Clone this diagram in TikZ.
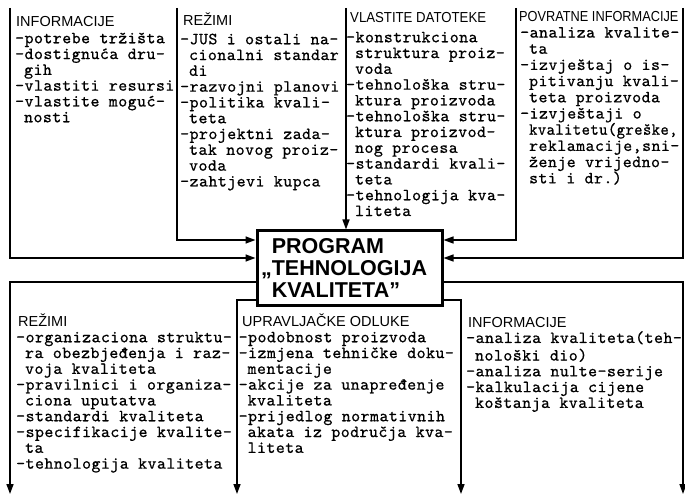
\documentclass[tikz,border=0pt]{standalone}
\usepackage{fontspec}
\usepackage{graphicx}
\newfontfamily\hdfont{Liberation Sans}
\newfontfamily\typew[LetterSpace=2.9,FakeBold=0.7]{lmmono10-regular.otf}
\usetikzlibrary{arrows.meta}
\tikzset{
  flow/.style={line width=1.5pt, -{Triangle[length=10pt,width=7pt]}},
  hd/.style={anchor=base west, inner sep=0pt, font=\hdfont\fontsize{14.5}{16}\selectfont},
  lst/.style={anchor=north west, inner sep=0pt, align=left, font=\typew\fontsize{17}{15.8}\selectfont},
  progbox/.style={draw, line width=3pt, minimum width=185pt, minimum height=74pt,
    inner sep=0pt, align=left, font=\hdfont\bfseries\fontsize{21.5}{22}\selectfont}
}
\newcommand{\cind}{\hphantom{-}}
\begin{document}
\begin{tikzpicture}[x=1pt,y=-1pt]
\useasboundingbox (0,0) rectangle (685,494);
\node[progbox] (prog) at (349.5,268) {PROGRAM\\\llap{„}TEHNOLOGIJA\hspace*{10pt}\\KVALITETA”};
% ulazi
\coordinate (t1) at (10,8);
\coordinate (t2) at (177,8);
\coordinate (t3) at (346,8);
\coordinate (t4) at (516,8);
\coordinate (t5) at (683,8);
\draw[flow] (t1) |- (prog.west |- 0,258);
\draw[flow] (t2) |- (prog.west |- 0,240);
\draw[flow] (t3) -- (t3 |- prog.north);
\draw[flow] (t4) |- (prog.east |- 0,240);
\draw[flow] (t5) |- (prog.east |- 0,258);
% izlazi
\coordinate (b1) at (10,494);
\coordinate (b2) at (237,494);
\coordinate (b3) at (461,494);
\coordinate (b4) at (683,494);
\draw[flow] (prog.west |- 0,282) -| (b1);
\draw[flow] (prog.west |- 0,300) -| (b2);
\draw[flow] (prog.east |- 0,300) -| (b3);
\draw[flow] (prog.east |- 0,282) -| (b4);
% gornji tekstovi
\node[hd] (h1) at (16,27) {INFORMACIJE};
\node[lst] (l1) at (15,32) {\strut-potrebe tržišta\\-dostignuća dru-\\\cind gih\\-vlastiti resursi\\-vlastite moguć-\\\cind nosti};
\node[hd] (h2) at (183,26) {REŽIMI};
\node[lst] (l2) at (180,33) {\strut-JUS i ostali na-\\\cind cionalni standar\\\cind di\\-razvojni planovi\\-politika kvali-\\\cind teta\\-projektni zada-\\\cind tak novog proiz-\\\cind voda\\-zahtjevi kupca};
\node[hd] (h3) at (350,23) {\scalebox{0.91}[1]{VLASTITE DATOTEKE}};
\node[lst] (l3) at (346,31) {\strut-konstrukciona\\\cind struktura proiz-\\\cind voda\\-tehnološka stru-\\\cind ktura proizvoda\\-tehnološka stru-\\\cind ktura proizvod-\\\cind nog procesa\\-standardi kvali-\\\cind teta\\-tehnologija kva-\\\cind liteta};
\node[hd] (h4) at (519,22) {\scalebox{0.88}[1]{POVRATNE INFORMACIJE}};
\node[lst, font=\typew\fontsize{17}{16.2}\selectfont] (l4) at (520,26) {\strut-analiza kvalite-\\\cind ta\\-izvještaj o is-\\\cind pitivanju kvali-\\\cind teta proizvoda\\-izvještaji o\\\cind \scalebox{0.93}[1]{kvalitetu(greške,}\\\cind reklamacije,sni-\\\cind ženje vrijedno-\\\cind sti i dr.)};
% donji tekstovi
\node[hd] (h5) at (18,326) {REŽIMI};
\node[lst] (l5) at (16,331) {\strut-organizaciona struktu-\\\cind ra obezbjeđenja i raz-\\\cind voja kvaliteta\\-pravilnici i organiza-\\\cind ciona uputatva\\-standardi kvaliteta\\-specifikacije kvalite-\\\cind ta\\-tehnologija kvaliteta};
\node[hd] (h6) at (242,326) {UPRAVLJAČKE ODLUKE};
\node[lst] (l6) at (238.5,331) {\strut-podobnost proizvoda\\-izmjena tehničke doku-\\\cind mentacije\\-akcije za unapređenje\\\cind kvaliteta\\-prijedlog normativnih\\\cind akata iz područja kva-\\\cind liteta};
\node[hd] (h7) at (468,327) {INFORMACIJE};
\node[lst] (l7) at (466,331) {\strut-analiza kvaliteta(teh-\\\cind nološki dio)\\-analiza nulte-serije\\-kalkulacija cijene\\\cind koštanja kvaliteta};
\end{tikzpicture}
\end{document}
